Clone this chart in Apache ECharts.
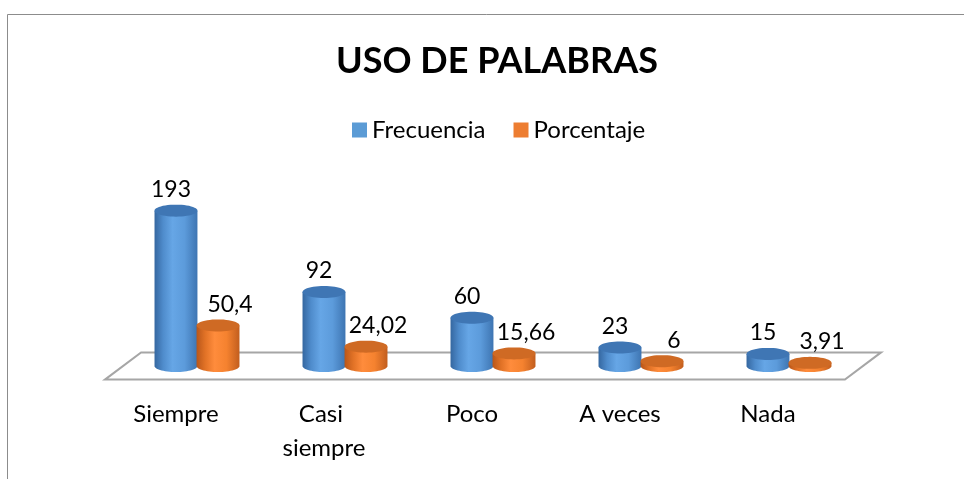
<!DOCTYPE html>
<html>
<head>
<meta charset="utf-8">
<script src="https://cdn.jsdelivr.net/npm/echarts@6/dist/echarts.min.js"></script>
<style>html,body{margin:0;padding:0;background:#fff}#c{width:964px;height:479px}</style>
</head>
<body>
<div id="c"></div>
<script>
const categories = ['Siempre', 'Casi siempre', 'Poco', 'A veces', 'Nada'];
const frecuencia = [193, 92, 60, 23, 15];
const porcentaje = [50.4, 24.02, 15.66, 6, 3.91];
const seriesNames = ['Frecuencia', 'Porcentaje'];
const chartTitle = 'USO DE PALABRAS';

const FONT = 'Lato';
const palettes = [
  { legend: '#5B9BD5', side: ['#3567A0', '#4F8CCC', '#66A6E6', '#5C9BDB', '#3E75B2'], top: '#3F76B4', labelDx: -5 },
  { legend: '#ED7D31', side: ['#B8561A', '#E17226', '#FF8C3C', '#F5822F', '#C25E1E'], top: '#CF6A24', labelDx: 12 }
];

function ellipsePts(cx, cy, rx, ry, t0, t1, n) {
  const pts = [];
  for (let i = 0; i <= n; i++) {
    const t = t0 + (t1 - t0) * i / n;
    pts.push([cx + rx * Math.cos(t), cy + ry * Math.sin(t)]);
  }
  return pts;
}

function fmt(v) { return String(v).replace('.', ','); }

function cylinder(sIdx) {
  const pal = palettes[sIdx];
  return function (params, api) {
    const cat = api.value(0), v = api.value(1);
    const base = api.coord([cat, 0]);
    const top = api.coord([cat, v]);
    const band = api.size([1, 0])[0];
    const w = band * 0.29;
    const rx = w / 2;
    const ry = w * 0.14;
    const cx = base[0] + band * 0.142 * (sIdx === 0 ? -1 : 1);
    const by = base[1], ty = top[1];
    const side = [[cx - rx, ty]].concat(ellipsePts(cx, by, rx, ry, Math.PI, 0, 30)).concat([[cx + rx, ty]]);
    const topE = ellipsePts(cx, ty, rx, ry, 0, Math.PI * 2, 48);
    const stops = pal.side.map((c, i) => ({ offset: [0, 0.2, 0.42, 0.7, 1][i], color: c }));
    return {
      type: 'group',
      children: [
        { type: 'polygon', shape: { points: side }, style: { fill: { type: 'linear', x: 0, y: 0, x2: 1, y2: 0, colorStops: stops } } },
        { type: 'polygon', shape: { points: topE }, style: { fill: pal.top } },
        { type: 'text', x: cx + pal.labelDx, y: ty - 21, style: { text: fmt(v), font: '23px ' + FONT, fill: '#000', align: 'center', verticalAlign: 'middle' } }
      ]
    };
  };
}

const chart = echarts.init(document.getElementById('c'));
chart.setOption({
  backgroundColor: '#fff',
  animation: false,
  graphic: [{ type: 'rect', left: 5, top: 12, shape: { width: 1000, height: 520 }, style: { fill: 'none', stroke: '#8C8C8C', lineWidth: 1 } }],
  title: { text: chartTitle, left: 331, top: 38, textStyle: { fontFamily: FONT, fontWeight: 'bold', fontSize: 36, color: '#000' } },
  legend: {
    data: seriesNames, left: 347, top: 113, icon: 'rect', itemWidth: 15, itemHeight: 15, itemGap: 28,
    textStyle: { fontFamily: FONT, fontSize: 24, color: '#000' }
  },
  grid: { left: 123, right: 101, top: 205, bottom: 113 },
  xAxis: {
    type: 'category', data: categories,
    axisLine: { show: false }, axisTick: { show: false }, splitLine: { show: false },
    axisLabel: { fontFamily: FONT, fontSize: 24, color: '#000', margin: 31, lineHeight: 34, padding: [0, 42, 0, 0], interval: 0, width: 100, overflow: 'break' }
  },
  yAxis: { type: 'value', min: 0, max: 200, show: false },
  series: [
    {
      type: 'custom', name: 'floor', silent: true, z: 1, data: [[0]],
      renderItem: function (params, api) {
        const band = api.size([1, 0])[0];
        const a = api.coord([0, 0]);
        const b = api.coord([categories.length - 1, 0]);
        const l = a[0] - band / 2, r = b[0] + band / 2, y = a[1];
        const dx = band * 0.122, dy = band * 0.092;
        return { type: 'polygon', shape: { points: [[l + dx, y - dy], [r + dx, y - dy], [r - dx, y + dy], [l - dx, y + dy]] }, style: { fill: 'none', stroke: '#A6A6A6', lineWidth: 2 } };
      }
    },
    { type: 'custom', name: seriesNames[0], z: 3, itemStyle: { color: palettes[0].legend }, data: frecuencia.map((v, i) => [i, v]), renderItem: cylinder(0) },
    { type: 'custom', name: seriesNames[1], z: 4, itemStyle: { color: palettes[1].legend }, data: porcentaje.map((v, i) => [i, v]), renderItem: cylinder(1) }
  ]
});
</script>
</body>
</html>
